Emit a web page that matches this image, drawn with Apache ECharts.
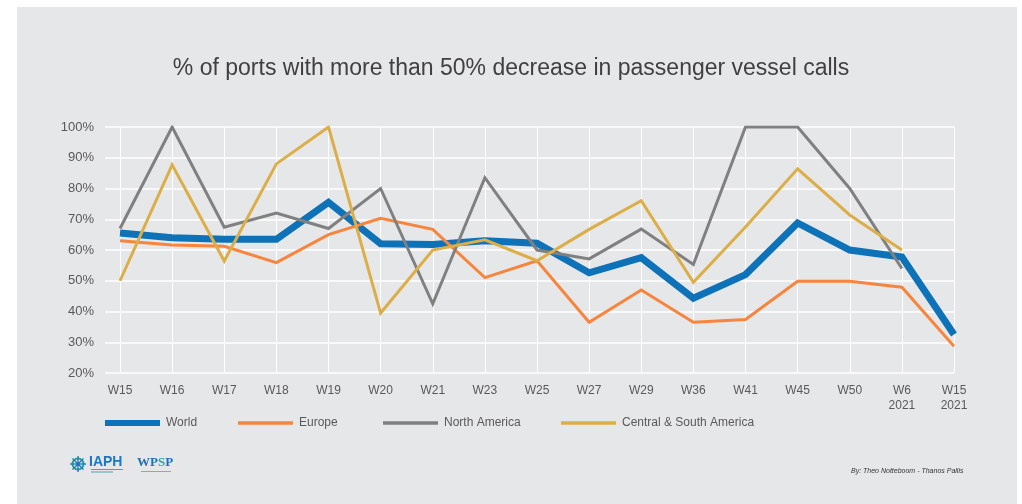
<!DOCTYPE html>
<html>
<head>
<meta charset="utf-8">
<script src="https://cdn.jsdelivr.net/npm/echarts@6/dist/echarts.min.js"></script>
<style>
  html, body { margin: 0; padding: 0; background: #ffffff; }
  #chart { width: 1022px; height: 504px; }
</style>
</head>
<body>
<div id="chart"></div>
<script>
// Week labels (two-line labels for 2021 weeks)
const weeks = ['W15', 'W16', 'W17', 'W18', 'W19', 'W20', 'W21', 'W23', 'W25', 'W27', 'W29', 'W36', 'W41', 'W45', 'W50', 'W6\n2021', 'W15\n2021'];

// Share of ports (%) with more than 50% decrease in passenger vessel calls
const world        = [65.5, 64.0, 63.5, 63.5, 75.5, 62.0, 61.8, 63.0, 62.2, 52.6, 57.5, 44.3, 52.0, 68.8, 60.0, 57.7, 32.5];
const europe       = [63.0, 61.6, 61.2, 55.9, 65.0, 70.3, 66.7, 51.0, 56.5, 36.5, 47.0, 36.5, 37.4, 49.8, 49.8, 47.9, 28.7];
const northAmerica = [67.0, 100, 67.4, 72.0, 67.0, 80.0, 42.5, 83.5, 60.0, 57.1, 66.8, 55.3, 100, 100, 80.0, 54.0, null];
const centralSouth = [50.0, 87.7, 56.4, 88.0, 100, 39.5, 60.0, 63.3, 56.5, 66.7, 76.0, 49.5, 67.5, 86.4, 71.4, 60.0, null];

const yTicks = { min: 20, max: 100, step: 10 };

const seriesDefs = [
  { name: 'World', data: world, color: '#0e72b8', width: 7 },
  { name: 'Europe', data: europe, color: '#f7853d', width: 3 },
  { name: 'North America', data: northAmerica, color: '#808080', width: 3 },
  { name: 'Central & South America', data: centralSouth, color: '#dcae48', width: 3 }
];

const chart = echarts.init(document.getElementById('chart'), null, { renderer: 'canvas' });

const FONT = 'Liberation Sans, Arial, sans-serif';
const legendPos = [105, 238, 383, 561];

const option = {
  backgroundColor: '#ffffff',
  animation: false,
  title: {
    text: '% of ports with more than 50% decrease in passenger vessel calls',
    left: 'center',
    top: 52,
    textStyle: { fontFamily: FONT, fontWeight: 'normal', fontSize: 23, color: '#404040' }
  },
  legend: seriesDefs.map((s, i) => ({
    data: [s.name],
    left: legendPos[i],
    top: 417,
    padding: 0,
    itemWidth: 55,
    itemHeight: s.width === 7 ? 6 : 3.5,
    itemGap: 0,
    icon: 'rect',
    selectedMode: false,
    textStyle: { fontFamily: FONT, fontSize: 12, color: '#595959', padding: [0, 0, 0, 1] }
  })),
  grid: [
    { left: 105, right: 68, top: 127, bottom: 131 },
    { left: 120, right: 68, top: 127, bottom: 131 }
  ],
  xAxis: [
    { type: 'value', gridIndex: 0, show: false, min: 0, max: 1 },
    {
      type: 'category', gridIndex: 1, data: weeks, boundaryGap: false,
      axisLine: { show: false },
      axisTick: { show: false },
      axisLabel: { fontFamily: FONT, fontSize: 12, color: '#595959', margin: 10, lineHeight: 15, interval: 0 },
      splitLine: { show: true, lineStyle: { color: '#ffffff', width: 1 } }
    }
  ],
  yAxis: [
    {
      type: 'value', gridIndex: 0, min: yTicks.min, max: yTicks.max, interval: yTicks.step,
      axisLine: { show: false }, axisTick: { show: false },
      axisLabel: { fontFamily: FONT, fontSize: 13, color: '#595959', margin: 11, formatter: '{value}%' },
      splitLine: { show: true, lineStyle: { color: '#ffffff', width: 1.5 } }
    },
    {
      type: 'value', gridIndex: 1, min: yTicks.min, max: yTicks.max, interval: yTicks.step,
      show: false, splitLine: { show: false }
    }
  ],
  series: seriesDefs.map(s => ({
    name: s.name,
    type: 'line',
    xAxisIndex: 1,
    yAxisIndex: 1,
    data: s.data,
    showSymbol: false,
    symbol: 'none',
    connectNulls: false,
    color: s.color,
    lineStyle: { color: s.color, width: s.width, join: 'miter', cap: 'butt' }
  })),
  graphic: [
    // panel background
    { type: 'rect', z: -10, silent: true, shape: { x: 17, y: 7, width: 1000, height: 497 }, style: { fill: '#e6e7e9' } },
    // IAPH wheel emblem
    { type: 'circle', shape: { cx: 78, cy: 464, r: 5.5 }, style: { fill: 'none', stroke: '#2a9d8f', lineWidth: 2 } },
    { type: 'circle', shape: { cx: 78, cy: 464, r: 2 }, style: { fill: '#1f76c0' } },
    { type: 'line', shape: { x1: 70, y1: 464, x2: 86, y2: 464 }, style: { stroke: '#1f76c0', lineWidth: 1.3 } },
    { type: 'line', shape: { x1: 78, y1: 456, x2: 78, y2: 472 }, style: { stroke: '#1f76c0', lineWidth: 1.3 } },
    { type: 'line', shape: { x1: 72.5, y1: 458.5, x2: 83.5, y2: 469.5 }, style: { stroke: '#1f76c0', lineWidth: 1.2 } },
    { type: 'line', shape: { x1: 83.5, y1: 458.5, x2: 72.5, y2: 469.5 }, style: { stroke: '#1f76c0', lineWidth: 1.2 } },
    { type: 'text', left: 89, top: 455, style: { text: 'IAPH', font: 'bold 14px ' + FONT, fill: '#1a78c8' } },
    { type: 'rect', shape: { x: 91, y: 469, width: 32, height: 1 }, style: { fill: '#4aa3b0' } },
    { type: 'rect', shape: { x: 91, y: 471.5, width: 22, height: 1 }, style: { fill: '#4aa3b0' } },
    // WPSP wordmark
    {
      type: 'text', left: 137, top: 456,
      style: {
        text: '{a|WP}{b|S}{a|P}',
        rich: {
          a: { font: 'bold 13px "Liberation Serif", serif', fill: '#1f6fb5' },
          b: { font: 'bold 13px "Liberation Serif", serif', fill: '#2aa59a' }
        }
      }
    },
    { type: 'rect', shape: { x: 141, y: 471, width: 30, height: 1 }, style: { fill: '#6cb7c0' } },
    // credits
    { type: 'text', left: 851, top: 468, style: { text: 'By: Theo Notteboom - Thanos Pallis', font: 'italic 7px ' + FONT, fill: '#333333' } }
  ]
};

chart.setOption(option);
</script>
</body>
</html>
